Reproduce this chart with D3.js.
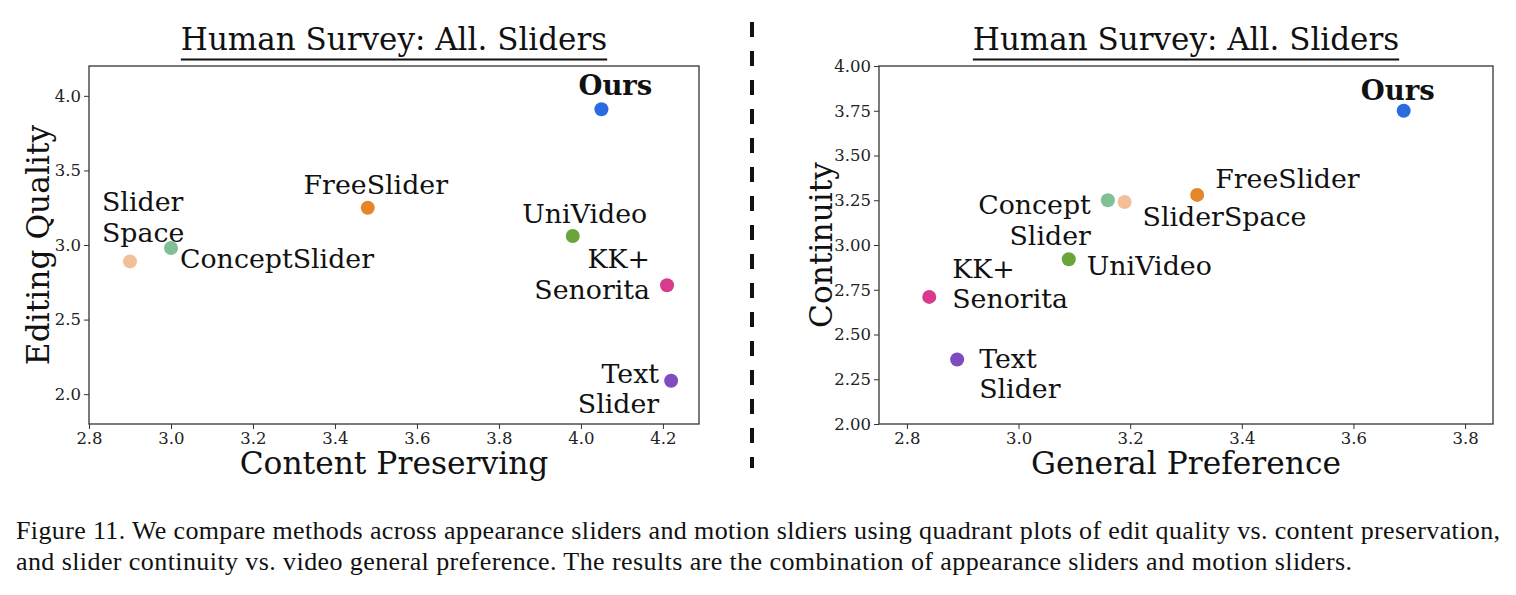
<!DOCTYPE html>
<html>
<head>
<meta charset="utf-8">
<script src="https://cdn.jsdelivr.net/npm/d3@7"></script>
<style>
  body { margin: 0; background: #fff; }
  svg { display: block; }
  .caption { font-family: "Liberation Serif", "Times New Roman", Times, serif; }
</style>
</head>
<body>
<div class="chart"></div>
<script>
// data
var methods = ["Ours", "FreeSlider", "SliderSpace", "ConceptSlider", "UniVideo", "KK+Senorita", "TextSlider"];
var colors = ["#2b6be0", "#e6862b", "#f3bf98", "#80c095", "#6aa53c", "#d93a8b", "#7e4cbf"];

// left panel
var contentPreserving = [4.05, 3.48, 2.90, 3.00, 3.98, 4.21, 4.22];
var editingQuality = [3.91, 3.25, 2.89, 2.98, 3.06, 2.73, 2.09];
var leftLabels = [["Ours"], ["FreeSlider"], ["Slider", "Space"], ["ConceptSlider"], ["UniVideo"], ["KK+", "Senorita"], ["Text", "Slider"]];
var leftXTicks = [2.8, 3.0, 3.2, 3.4, 3.6, 3.8, 4.0, 4.2];
var leftYTicks = [2.0, 2.5, 3.0, 3.5, 4.0];

// right panel
var generalPreference = [3.69, 3.32, 3.19, 3.16, 3.09, 2.84, 2.89];
var continuity = [3.75, 3.28, 3.24, 3.25, 2.92, 2.71, 2.36];
var rightLabels = [["Ours"], ["FreeSlider"], ["SliderSpace"], ["Concept", "Slider"], ["UniVideo"], ["KK+", "Senorita"], ["Text", "Slider"]];
var rightXTicks = [2.8, 3.0, 3.2, 3.4, 3.6, 3.8];
var rightYTicks = [2.00, 2.25, 2.50, 2.75, 3.00, 3.25, 3.50, 3.75, 4.00];

var titleText = "Human Survey: All. Sliders";
var captionLines = [
  "Figure 11. We compare methods across appearance sliders and motion sldiers using quadrant plots of edit quality vs. content preservation,",
  "and slider continuity vs. video general preference. The results are the combination of appearance sliders and motion sliders."
];

// label placement relative to each dot: [dx, dy of first baseline, anchor]
var leftLabelPos = [[-23, -14, "start"], [8, -14, "middle"], [-28, -50, "start"], [9, 20, "start"],
                    [12, -13, "middle"], [-17, -17, "end"], [-12, 2, "end"]];
var rightLabelPos = [[-43, -11, "start"], [18, -7, "start"], [18, 24, "start"], [-17, 14, "end"],
                     [18, 16, "start"], [23, -19, "start"], [22, 8, "start"]];

var svgWidth = 1516;
var svgHeight = 595;
var serif = "DejaVu Serif";

var svg = d3.select(".chart")
  .append("svg")
  .attr("width", svgWidth)
  .attr("height", svgHeight);

function drawPanel(opts) {
  var x = d3.scaleLinear().domain(opts.xDomain).range([opts.left, opts.right]);
  var y = d3.scaleLinear().domain(opts.yDomain).range([opts.bottom, opts.top]);
  var g = svg.append("g");

  var xAxis = g.append("g")
    .attr("transform", `translate(0, ${opts.bottom})`)
    .call(d3.axisBottom(x).tickValues(opts.xTicks).tickFormat(d3.format(".1f")).tickSize(5).tickPadding(3).tickSizeOuter(0));
  var yAxis = g.append("g")
    .attr("transform", `translate(${opts.left}, 0)`)
    .call(d3.axisLeft(y).tickValues(opts.yTicks).tickFormat(d3.format(opts.yFmt)).tickSize(5).tickPadding(3).tickSizeOuter(0));
  [xAxis, yAxis].forEach(function(a) {
    a.select(".domain").remove();
    a.selectAll("line").attr("stroke", "#333").attr("stroke-width", 1);
    a.selectAll("text").attr("font-family", serif).attr("font-size", 16.5).attr("fill", "#222");
  });

  // frame
  g.append("rect")
    .attr("x", opts.left).attr("y", opts.top)
    .attr("width", opts.right - opts.left).attr("height", opts.bottom - opts.top)
    .attr("fill", "none").attr("stroke", "#333").attr("stroke-width", 1.3);

  // dots
  g.selectAll("circle.dot")
    .data(methods)
    .enter()
    .append("circle")
    .attr("class", "dot")
    .attr("cx", function(d, i) { return x(opts.xs[i]); })
    .attr("cy", function(d, i) { return y(opts.ys[i]); })
    .attr("r", 7)
    .attr("fill", function(d, i) { return colors[i]; });

  // point labels
  var labels = g.selectAll("text.lbl")
    .data(methods)
    .enter()
    .append("text")
    .attr("class", "lbl")
    .attr("font-family", serif)
    .attr("font-size", d => d == "Ours" ? 27.5 : 26.8)
    .attr("font-weight", d => d == "Ours" ? "bold" : "normal")
    .attr("fill", "#111")
    .attr("text-anchor", function(d, i) { return opts.pos[i][2]; });
  labels.each(function(d, i) {
    var px = x(opts.xs[i]) + opts.pos[i][0];
    var py = y(opts.ys[i]) + opts.pos[i][1];
    d3.select(this).selectAll("tspan")
      .data(opts.labels[i])
      .enter()
      .append("tspan")
      .attr("x", px)
      .attr("y", (t, j) => py + j * 30.5)
      .text(t => t);
  });

  // title with underline
  var cx = (opts.left + opts.right) / 2;
  var title = g.append("text")
    .attr("x", cx).attr("y", 50)
    .attr("text-anchor", "middle")
    .attr("font-family", serif).attr("font-size", 31).attr("fill", "#111")
    .text(titleText);
  var tw = title.node().getComputedTextLength();
  g.append("line")
    .attr("x1", cx - tw / 2).attr("x2", cx + tw / 2)
    .attr("y1", 59.5).attr("y2", 59.5)
    .attr("stroke", "#111").attr("stroke-width", 2);

  // axis labels
  g.append("text")
    .attr("x", cx).attr("y", 474)
    .attr("text-anchor", "middle")
    .attr("font-family", serif).attr("font-size", 31.3).attr("fill", "#111")
    .text(opts.xLabel);
  g.append("text")
    .attr("transform", `translate(${opts.yLabelX}, ${(opts.top + opts.bottom) / 2}) rotate(-90)`)
    .attr("text-anchor", "middle")
    .attr("font-family", serif).attr("font-size", 31.3).attr("fill", "#111")
    .text(opts.yLabel);
}

drawPanel({
  left: 89, right: 699, top: 66, bottom: 424,
  xDomain: [2.8, 4.288], yDomain: [1.8, 4.2],
  xTicks: leftXTicks, yTicks: leftYTicks, yFmt: ".1f",
  xs: contentPreserving, ys: editingQuality,
  labels: leftLabels, pos: leftLabelPos,
  xLabel: "Content Preserving", yLabel: "Editing Quality", yLabelX: 49
});

drawPanel({
  left: 879, right: 1493, top: 66, bottom: 424,
  xDomain: [2.75, 3.85], yDomain: [2.0, 4.0],
  xTicks: rightXTicks, yTicks: rightYTicks, yFmt: ".2f",
  xs: generalPreference, ys: continuity,
  labels: rightLabels, pos: rightLabelPos,
  xLabel: "General Preference", yLabel: "Continuity", yLabelX: 832
});

// dashed divider between the panels
svg.append("line")
  .attr("x1", 752).attr("x2", 752)
  .attr("y1", 22).attr("y2", 468)
  .attr("stroke", "#111").attr("stroke-width", 4)
  .attr("stroke-dasharray", "15,14");

// caption: size the font so the first line fills the page width like the figure
var capWidths = [1484, 1336];
var caption = svg.selectAll("text.caption")
  .data(captionLines)
  .enter()
  .append("text")
  .attr("class", "caption")
  .attr("x", 16)
  .attr("y", (d, i) => 539 + i * 31)
  .attr("font-size", 23)
  .attr("fill", "#111")
  .text(d => d);
var natural = caption.node().getComputedTextLength();
var capSize = Math.min(26, 23 * capWidths[0] / natural);
caption.attr("font-size", capSize)
  .attr("textLength", (d, i) => capWidths[i])
  .attr("lengthAdjust", "spacing");
</script>
</body>
</html>
